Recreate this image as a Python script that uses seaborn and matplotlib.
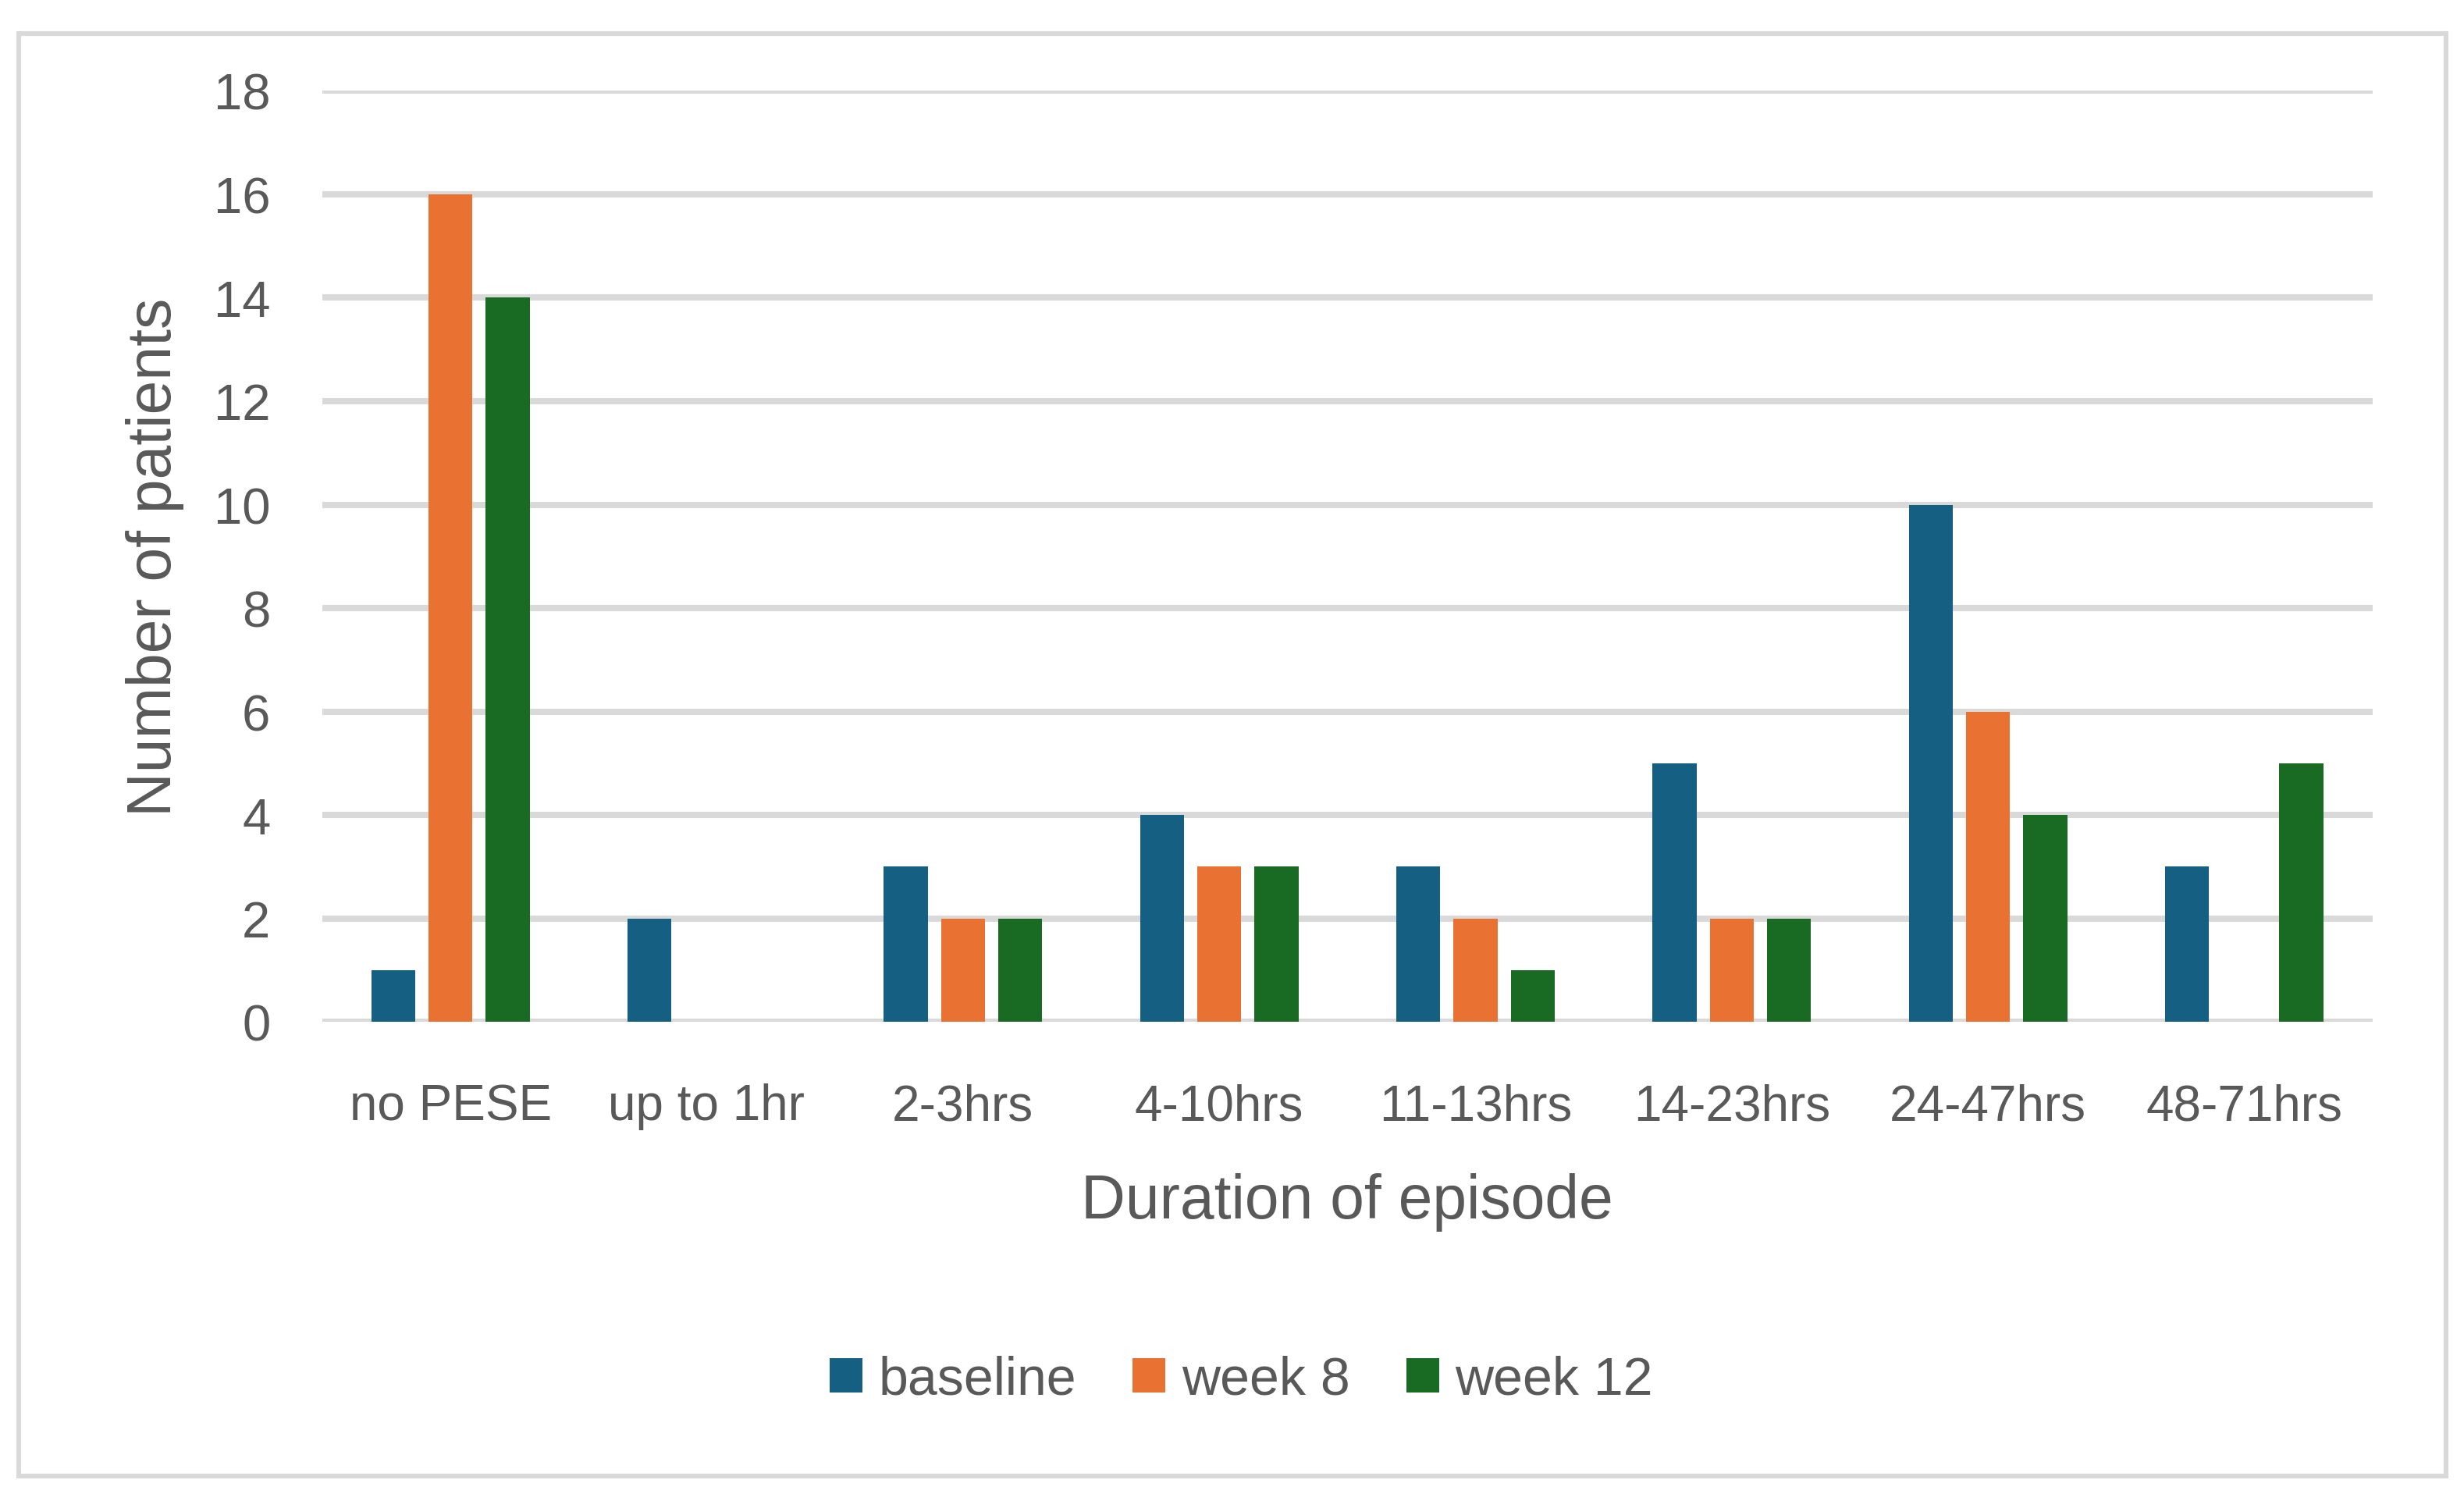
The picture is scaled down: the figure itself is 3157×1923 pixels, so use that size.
from __future__ import annotations

import matplotlib

matplotlib.use("Agg")

import matplotlib.pyplot as plt
import pandas as pd
import seaborn as sns
from matplotlib.patches import Rectangle


DURATIONS = ["no PESE", "up to 1hr", "2-3hrs", "4-10hrs", "11-13hrs", "14-23hrs", "24-47hrs", "48-71hrs"]
TIMEPOINTS = ["baseline", "week 8", "week 12"]
BASELINE = [1, 2, 3, 4, 3, 5, 10, 3]
WEEK_8 = [16, 0, 2, 3, 2, 2, 6, 0]
WEEK_12 = [14, 0, 2, 3, 1, 2, 4, 5]
Y_TICKS = [0, 2, 4, 6, 8, 10, 12, 14, 16, 18]

COLORS = ["#156082", "#E97132", "#196B24"]
TEXT_COLOR = "#595959"
GRID_COLOR = "#D9D9D9"


def build_frame() -> pd.DataFrame:
    """Long table of patient counts per duration and timepoint."""
    rows = []
    for timepoint, values in zip(TIMEPOINTS, [BASELINE, WEEK_8, WEEK_12]):
        for duration, count in zip(DURATIONS, values):
            rows.append({"duration": duration, "timepoint": timepoint, "patients": count})
    return pd.DataFrame(rows)


def plot_durations(df: pd.DataFrame) -> plt.Figure:
    sns.set_theme(style="white")
    plt.rcParams["font.family"] = ["Liberation Sans", "DejaVu Sans"]

    fig = plt.figure(figsize=(15.785, 9.62), dpi=200)
    ax = fig.add_axes([0.1308, 0.319, 0.832, 0.62])

    sns.barplot(
        data=df,
        x="duration",
        y="patients",
        hue="timepoint",
        order=DURATIONS,
        hue_order=TIMEPOINTS,
        palette=COLORS,
        width=0.67,
        gap=0.23,
        linewidth=0,
        saturation=1,
        errorbar=None,
        ax=ax,
        zorder=3,
    )

    ax.set_ylim(0, 18)
    ax.set_xlim(-0.5, len(DURATIONS) - 0.5)
    ax.set_yticks(Y_TICKS)
    ax.yaxis.grid(True, color=GRID_COLOR, linewidth=2.9, zorder=0)
    ax.set_axisbelow(True)
    for spine in ax.spines.values():
        spine.set_visible(False)

    ax.tick_params(axis="y", length=0, pad=24, labelsize=23.5, labelcolor=TEXT_COLOR)
    ax.tick_params(axis="x", length=0, pad=28, labelsize=23, labelcolor=TEXT_COLOR)

    ax.set_ylabel("Number of patients", fontsize=28.3, color=TEXT_COLOR)
    ax.yaxis.set_label_coords(-0.0815, 0.5)
    ax.yaxis.label.set_va("center")
    ax.set_xlabel("Duration of episode", fontsize=28.3, color=TEXT_COLOR)
    ax.xaxis.set_label_coords(0.5, -0.193)
    ax.xaxis.label.set_va("center")

    handles, labels = ax.get_legend_handles_labels()
    ax.legend(
        handles,
        labels,
        loc="center",
        bbox_to_anchor=(0.5037, 0.0806),
        bbox_transform=fig.transFigure,
        ncol=3,
        frameon=False,
        fontsize=24.5,
        labelcolor=TEXT_COLOR,
        handlelength=0.62,
        handleheight=0.62,
        handletextpad=0.3,
        columnspacing=1.06,
    )

    # light grey frame around the whole chart
    fig.patches.append(
        Rectangle(
            (0.0076, 0.0166),
            0.9851,
            0.9604,
            transform=fig.transFigure,
            fill=False,
            edgecolor=GRID_COLOR,
            linewidth=2.2,
        )
    )
    return fig


if __name__ == "__main__":
    figure = plot_durations(build_frame())
    figure.savefig("out.png", dpi=200, facecolor="white")
    plt.close(figure)
